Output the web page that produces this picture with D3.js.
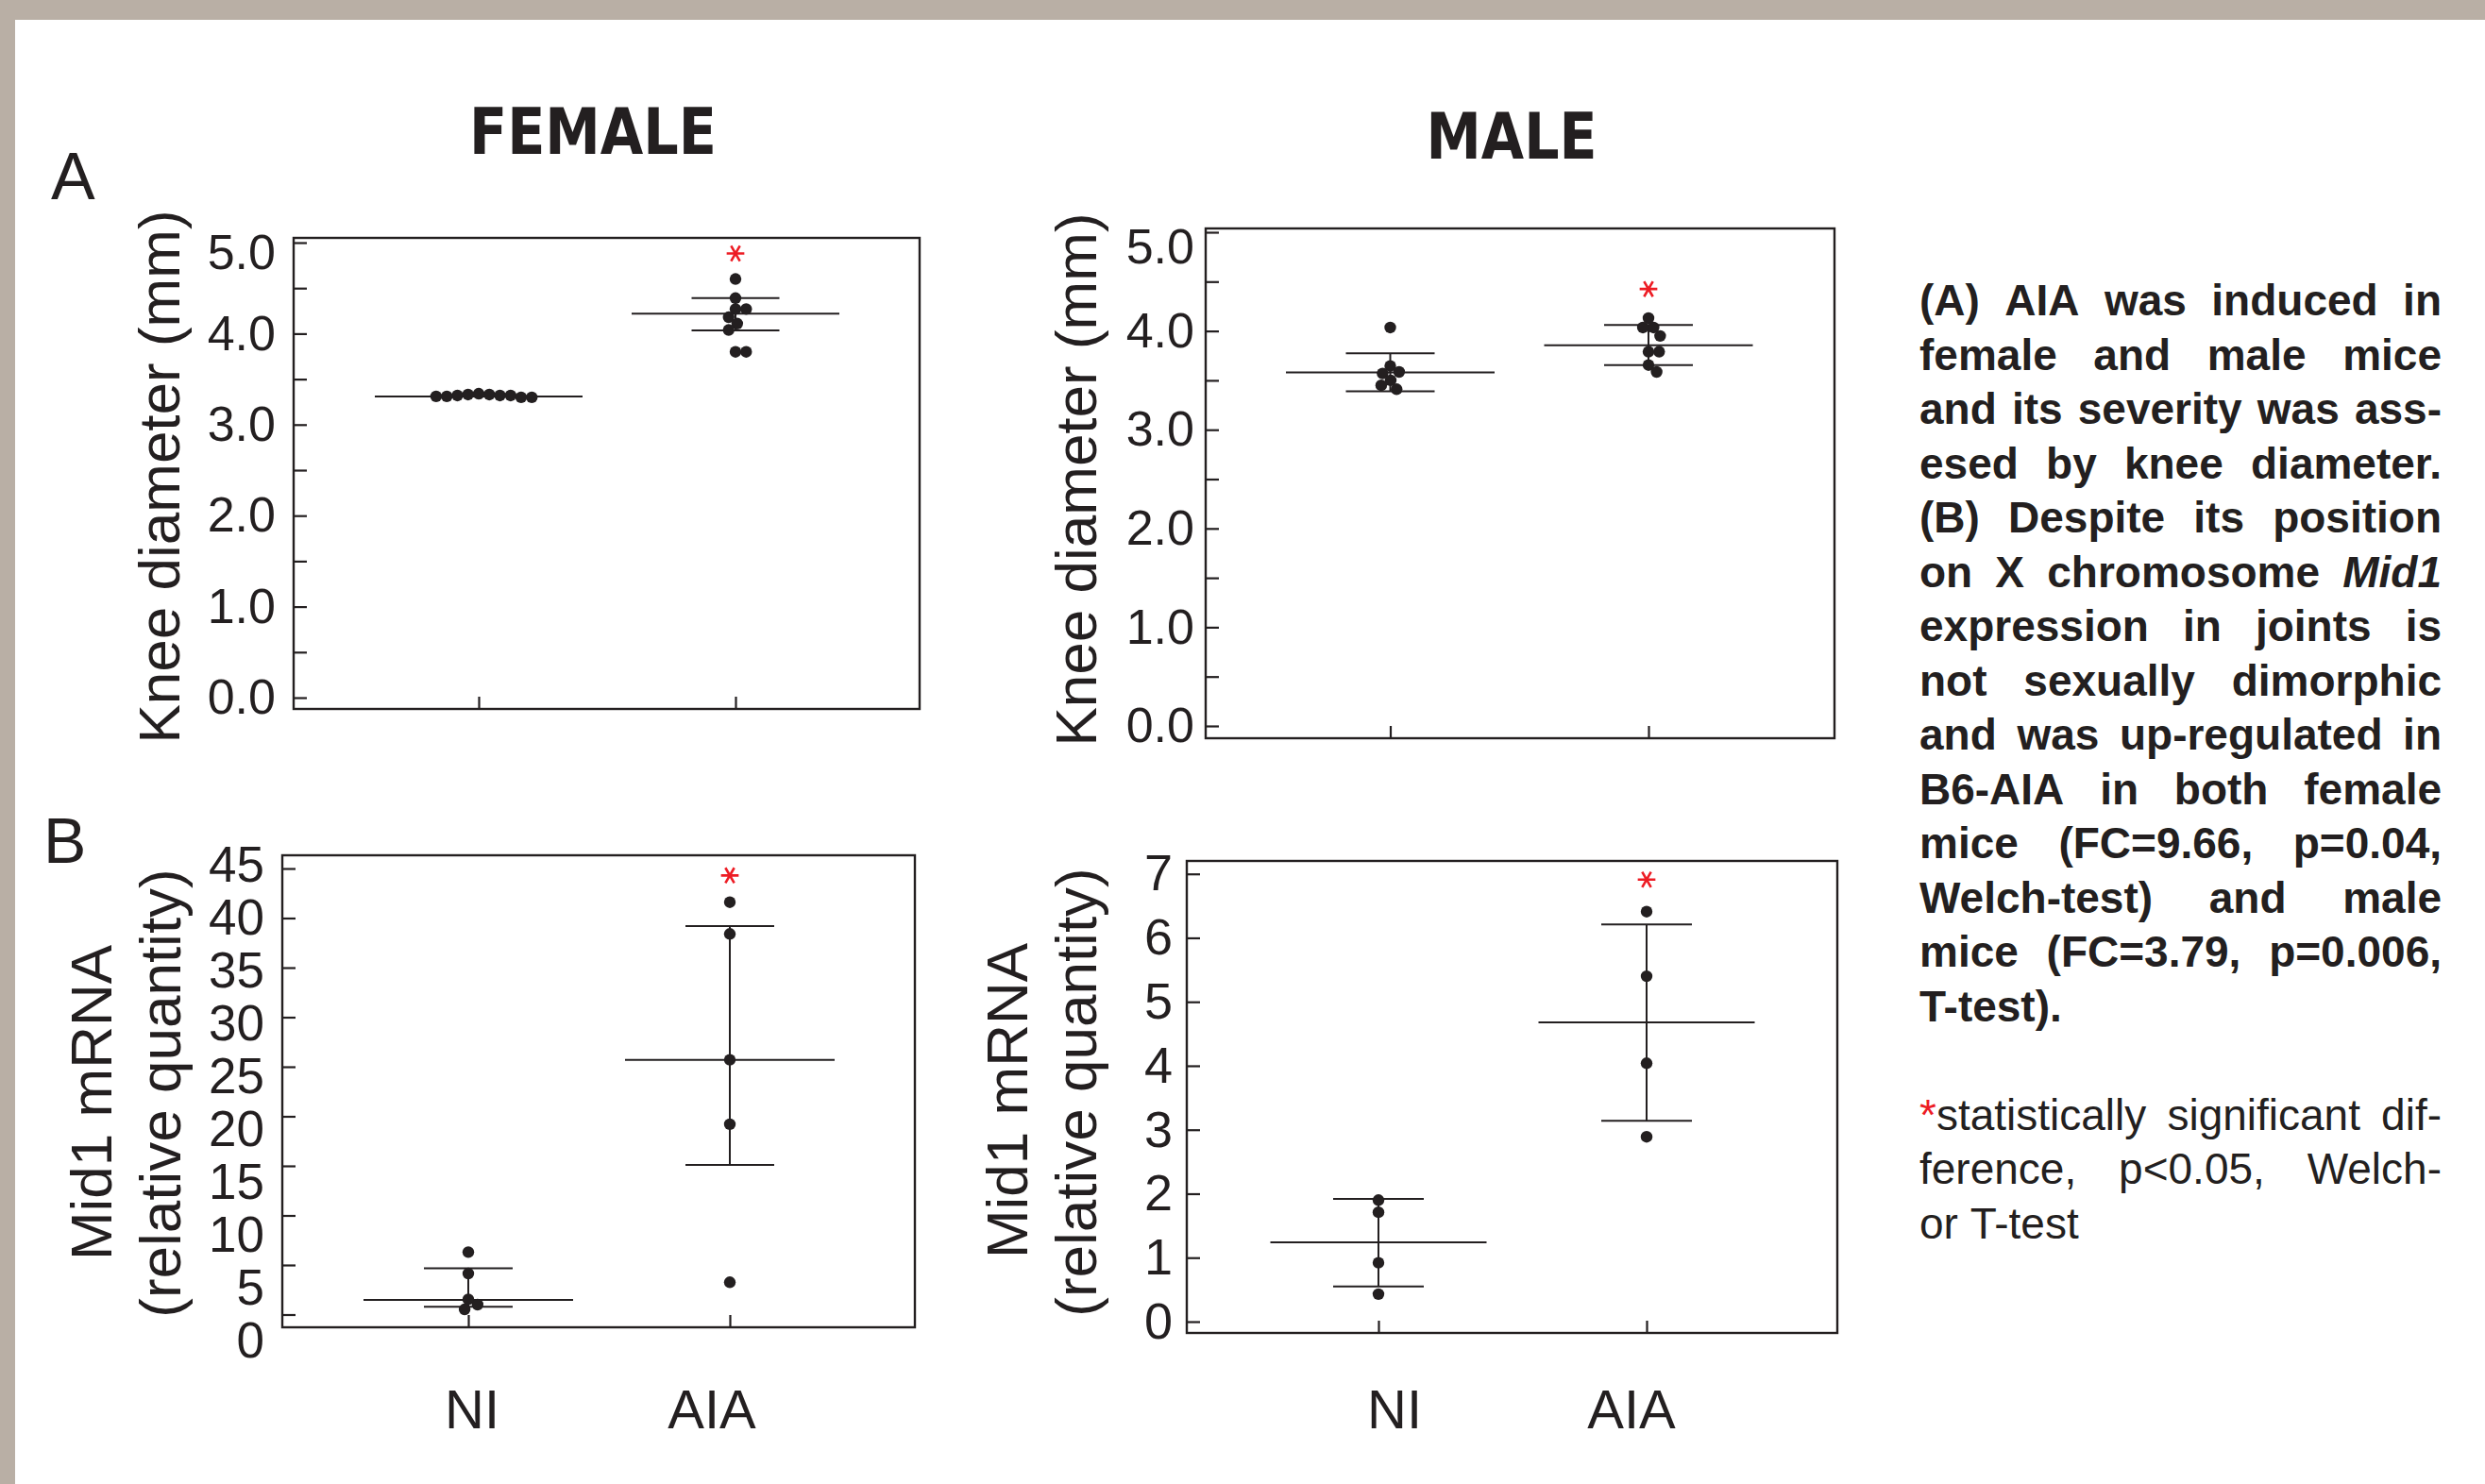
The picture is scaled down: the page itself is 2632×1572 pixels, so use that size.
<!DOCTYPE html>
<meta charset="utf-8">
<script src="https://d3js.org/d3.v7.min.js"></script>
<style>
  body { margin: 0; background: #fff; }
  text { font-family: "Liberation Sans", Arial, sans-serif; fill: #231f20; }
</style>
<div id="chart"></div>
<script>

// groups on the x axis
const groups = ["NI", "AIA"];

// A, knee diameter (mm)
const femaleKneeNI  = [3.30, 3.30, 3.31, 3.31, 3.32, 3.32, 3.32, 3.33, 3.33, 3.34];
const femaleKneeAIA = [4.60, 4.39, 4.27, 4.27, 4.18, 4.11, 4.04, 3.80, 3.80];
const femaleKneeMid  = [3.31, 4.22];
const femaleKneeLow  = [3.31, 4.035];
const femaleKneeHigh = [3.31, 4.39];
const femaleKneeStar = [null, 4.88];

const maleKneeNI  = [4.035, 3.645, 3.585, 3.57, 3.50, 3.45, 3.41];
const maleKneeAIA = [4.13, 4.035, 4.035, 3.95, 3.79, 3.79, 3.655, 3.585];
const maleKneeMid  = [3.58, 3.855];
const maleKneeLow  = [3.39, 3.655];
const maleKneeHigh = [3.775, 4.06];
const maleKneeStar = [null, 4.425];

const kneeTicks = d3.range(0, 5.01, 0.5);
const kneeTickLabels = ["0.0", "1.0", "2.0", "3.0", "4.0", "5.0"];

// B, Mid1 mRNA (relative quantity)
const femaleMrnaNI  = [6.3, 4.14, 1.53, 1.0, 0.52];
const femaleMrnaAIA = [41.6, 38.4, 25.7, 19.2, 3.26];
const femaleMrnaMid  = [1.48, 25.7];
const femaleMrnaLow  = [0.78, 15.1];
const femaleMrnaHigh = [4.66, 39.2];
const femaleMrnaStar = [null, 44.3];
const femaleMrnaTicks = [0, 5, 10, 15, 20, 25, 30, 35, 40, 45];

const maleMrnaNI  = [1.90, 1.71, 0.92, 0.43];
const maleMrnaAIA = [6.41, 5.40, 4.04, 2.89];
const maleMrnaMid  = [1.24, 4.68];
const maleMrnaLow  = [0.55, 3.14];
const maleMrnaHigh = [1.92, 6.21];
const maleMrnaStar = [null, 6.91];
const maleMrnaTicks = [0, 1, 2, 3, 4, 5, 6, 7];

// caption
const captionLines = [
  "(A) AIA was induced in",
  "female and male mice",
  "and its severity was ass-",
  "esed by knee diameter.",
  "(B) Despite its position",
  "on X chromosome _Mid1_",
  "expression in joints is",
  "not sexually dimorphic",
  "and was up-regulated in",
  "B6-AIA in both female",
  "mice (FC=9.66, p=0.04,",
  "Welch-test) and male",
  "mice (FC=3.79, p=0.006,",
  "T-test)."
];
const footnoteLines = [
  "^*^statistically significant dif-",
  "ference, p<0.05, Welch-",
  "or T-test"
];

const ink = "#231f20", red = "#ed1c24";
const W = 2632, H = 1572;

const svg = d3.select("#chart").append("svg")
  .attr("width", W).attr("height", H);

// frame
svg.append("rect").attr("width", W).attr("height", H).attr("fill", "#b9afa5");
svg.append("rect").attr("x", 16).attr("y", 21).attr("width", W - 16).attr("height", H - 21).attr("fill", "#fff");

const fmtKnee = d => Number.isInteger(d) ? kneeTickLabels[d] : "";

const panels = [
  { box: {x: 311, y: 252, w: 663, h: 499}, domain: [0, 5], yr: [739, 257], xr: [507, 779],
    ticks: kneeTicks, fmt: fmtKnee, pad: 19, fs: 52, topShift: 11, meanHalf: 110, whiskHalf: 46.5,
    NI: femaleKneeNI, AIA: femaleKneeAIA, mid: femaleKneeMid, lo: femaleKneeLow, hi: femaleKneeHigh, star: femaleKneeStar },
  { box: {x: 1277, y: 242, w: 666, h: 540}, domain: [0, 5], yr: [769, 246], xr: [1472.5, 1746],
    ticks: kneeTicks, fmt: fmtKnee, pad: 12, fs: 52, topShift: 16, meanHalf: 110.5, whiskHalf: 47,
    NI: maleKneeNI, AIA: maleKneeAIA, mid: maleKneeMid, lo: maleKneeLow, hi: maleKneeHigh, star: maleKneeStar },
  { box: {x: 299, y: 906, w: 670, h: 500}, domain: [0, 45], yr: [1392.5, 920], xr: [496, 773],
    labelYr: [1419, 915], labelXr: [500, 754],
    ticks: femaleMrnaTicks, fmt: d => d, pad: 19, fs: 53, meanHalf: 111, whiskHalf: 47,
    NI: femaleMrnaNI, AIA: femaleMrnaAIA, mid: femaleMrnaMid, lo: femaleMrnaLow, hi: femaleMrnaHigh, star: femaleMrnaStar },
  { box: {x: 1257, y: 912, w: 689, h: 500}, domain: [0, 7], yr: [1400, 925.7], xr: [1460, 1744],
    labelXr: [1477, 1728],
    ticks: maleMrnaTicks, fmt: d => d, pad: 15, fs: 54, meanHalf: 114.5, whiskHalf: 48,
    NI: maleMrnaNI, AIA: maleMrnaAIA, mid: maleMrnaMid, lo: maleMrnaLow, hi: maleMrnaHigh, star: maleMrnaStar }
];

// simple beeswarm: place dots top to bottom at the nearest free x offset
function swarm(vals, y, d) {
  const placed = [];
  vals.slice().sort((a, b) => b - a).forEach(v => {
    const py = y(v);
    const cands = [0];
    placed.forEach(p => {
      const dy = py - p.y;
      if (Math.abs(dy) < d) {
        const dx = Math.sqrt(d * d - dy * dy);
        cands.push(p.x + dx, p.x - dx);
      }
    });
    cands.sort((a, b) => Math.abs(a) - Math.abs(b));
    const x = cands.find(c => placed.every(p => (p.x - c) ** 2 + (p.y - py) ** 2 >= d * d - 0.01));
    placed.push({x: x, y: py});
  });
  return placed;
}

panels.forEach(p => {
  const g = svg.append("g");
  const y = d3.scaleLinear().domain(p.domain).range(p.yr);
  const x = d3.scalePoint().domain(groups).range(p.xr);

  // y axis, ticks pointing inwards
  const ya = g.append("g")
    .attr("transform", `translate(${p.box.x},0)`)
    .call(d3.axisLeft(y).tickValues(p.ticks).tickSizeInner(-14).tickSizeOuter(0)
      .tickPadding(p.pad).tickFormat(p.labelYr ? "" : p.fmt));
  ya.select(".domain").remove();
  ya.selectAll(".tick line").attr("stroke", ink).attr("stroke-width", 2.2);
  ya.selectAll(".tick text").attr("font-size", p.fs).attr("font-family", "Liberation Sans, Arial, sans-serif").attr("fill", ink);
  // the top label sits a little below its tick in the original
  if (p.topShift) {
    ya.selectAll(".tick text").filter(d => d === p.domain[1]).attr("transform", `translate(0,${p.topShift})`);
  }

  // labels of the female mRNA axis sit on their own spacing
  if (p.labelYr) {
    const yl = d3.scaleLinear().domain(p.domain).range(p.labelYr);
    g.selectAll("text.ylab").data(p.ticks).join("text")
      .attr("class", "ylab")
      .attr("x", p.box.x - p.pad)
      .attr("y", d => yl(d))
      .attr("dy", "0.35em")
      .attr("text-anchor", "end")
      .attr("font-size", p.fs)
      .text(p.fmt);
  }

  // x axis ticks
  const xa = g.append("g")
    .attr("transform", `translate(0,${p.box.y + p.box.h})`)
    .call(d3.axisBottom(x).tickSizeInner(-13).tickSizeOuter(0).tickFormat(""));
  xa.select(".domain").remove();
  xa.selectAll(".tick line").attr("stroke", ink).attr("stroke-width", 2.2);

  if (p.labelXr) {
    const xl = d3.scalePoint().domain(groups).range(p.labelXr);
    g.selectAll("text.xlab").data(groups).join("text")
      .attr("class", "xlab")
      .attr("x", d => xl(d))
      .attr("y", 1513)
      .attr("text-anchor", "middle")
      .attr("font-size", 58)
      .text(d => d);
  }

  // box
  g.append("rect")
    .attr("x", p.box.x).attr("y", p.box.y).attr("width", p.box.w).attr("height", p.box.h)
    .attr("fill", "none").attr("stroke", ink).attr("stroke-width", 2.4);

  groups.forEach((grp, i) => {
    const cx = x(grp);
    const eb = g.append("g").attr("stroke", ink).attr("stroke-width", 2);
    eb.append("line").attr("x1", cx).attr("x2", cx).attr("y1", y(p.lo[i])).attr("y2", y(p.hi[i]));
    [p.lo[i], p.hi[i]].forEach(v => {
      eb.append("line").attr("x1", cx - p.whiskHalf).attr("x2", cx + p.whiskHalf)
        .attr("y1", y(v)).attr("y2", y(v));
    });
    eb.append("line").attr("x1", cx - p.meanHalf).attr("x2", cx + p.meanHalf)
      .attr("y1", y(p.mid[i])).attr("y2", y(p.mid[i]));

    g.selectAll(null).data(swarm(p[grp], y, 11.3)).join("circle")
      .attr("cx", d => cx + d.x).attr("cy", d => d.y).attr("r", 6.2).attr("fill", ink);

    if (p.star[i] != null) {
      g.append("path")
        .attr("d", d3.symbol(d3.symbolAsterisk, 247)())
        .attr("transform", `translate(${cx},${y(p.star[i])}) rotate(90)`)
        .attr("fill", "none").attr("stroke", red).attr("stroke-width", 2.6);
    }
  });
});

// titles and panel letters
svg.append("text").attr("x", 628).attr("y", 163).attr("text-anchor", "middle")
  .attr("font-size", 67).attr("font-weight", "bold")
  .style("font-family", "'DejaVu Sans Condensed', 'DejaVu Sans', sans-serif").style("font-stretch", "condensed")
  .attr("textLength", 262).attr("lengthAdjust", "spacingAndGlyphs").text("FEMALE");
svg.append("text").attr("x", 1601).attr("y", 168).attr("text-anchor", "middle")
  .attr("font-size", 67).attr("font-weight", "bold")
  .style("font-family", "'DejaVu Sans Condensed', 'DejaVu Sans', sans-serif").style("font-stretch", "condensed")
  .attr("textLength", 181).attr("lengthAdjust", "spacingAndGlyphs").text("MALE");
svg.append("text").attr("x", 54).attr("y", 211).attr("font-size", 70).text("A");
svg.append("text").attr("x", 46).attr("y", 914).attr("font-size", 68).text("B");

// y axis titles
const yTitles = [
  {x: 190, y: 505, t: "Knee diameter (mm)"},
  {x: 1161, y: 508, t: "Knee diameter (mm)"},
  {x: 118, y: 1168, t: "Mid1 mRNA"},
  {x: 191, y: 1158, t: "(relative quantity)"},
  {x: 1088, y: 1166, t: "Mid1 mRNA"},
  {x: 1161, y: 1157, t: "(relative quantity)"}
];
svg.selectAll("text.ytitle").data(yTitles).join("text")
  .attr("class", "ytitle")
  .attr("transform", d => `translate(${d.x},${d.y}) rotate(-90)`)
  .attr("text-anchor", "middle")
  .attr("font-size", 62)
  .text(d => d.t);

// justified caption
const noteX = 2033, noteW = 553, noteFs = 46, lineH = 57.5;
const note = svg.append("g").attr("font-size", noteFs);

function drawPara(lines, y0, weight) {
  lines.forEach((line, i) => {
    const yy = y0 + i * lineH;
    const words = line.split(" ");
    const els = words.map(w => {
      const t = note.append("text").attr("y", yy).attr("font-weight", weight);
      w.split(/(_[^_]+_|\^[^^]+\^)/).filter(s => s.length).forEach(s => {
        const ts = t.append("tspan");
        if (s[0] === "_") ts.attr("font-style", "italic").text(s.slice(1, -1));
        else if (s[0] === "^") ts.style("fill", red).text(s.slice(1, -1));
        else ts.text(s);
      });
      return t;
    });
    const widths = els.map(t => t.node().getComputedTextLength());
    const last = i === lines.length - 1;
    const gap = last ? 0.278 * noteFs : (noteW - d3.sum(widths)) / (words.length - 1);
    let xx = noteX;
    els.forEach((t, k) => { t.attr("x", xx); xx += widths[k] + gap; });
  });
}
drawPara(captionLines, 334, "bold");
drawPara(footnoteLines, 1196.5, "normal");

</script>
